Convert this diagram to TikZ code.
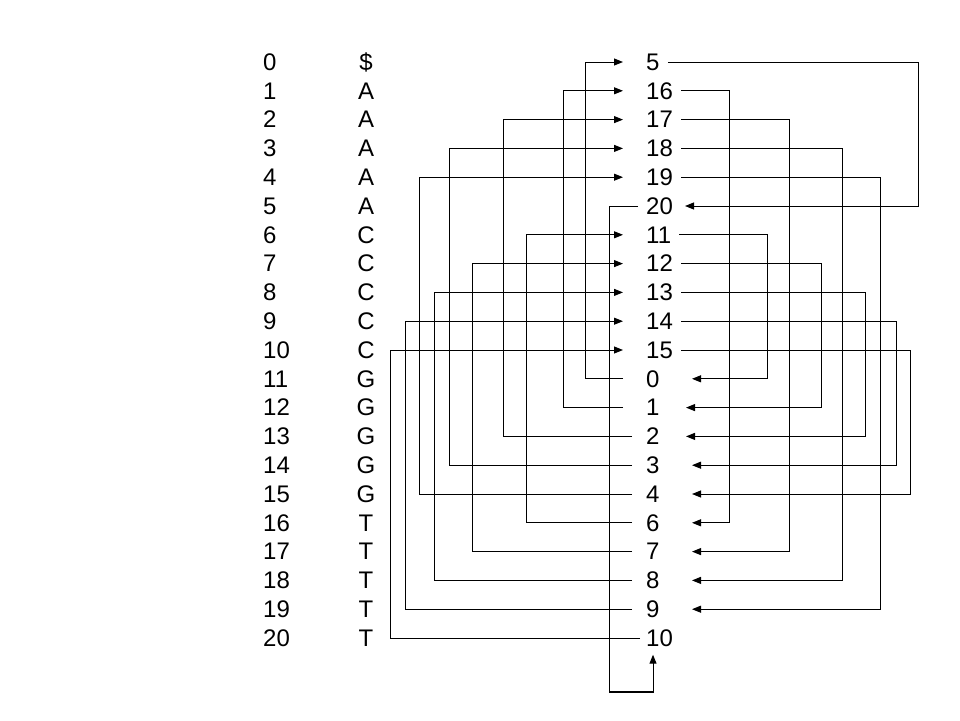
\documentclass[tikz,border=0pt]{standalone}
\usepackage{fontspec}
\setmainfont{Liberation Sans}
\usetikzlibrary{arrows.meta,calc}
\begin{document}
\begin{tikzpicture}[x=1pt,y=-1pt,
  lbl/.style={inner sep=0pt,font=\fontsize{24}{28}\selectfont},
  wire/.style={line width=1pt,line join=miter},
  arr/.style={wire,-{Triangle[length=9pt,width=7pt]}}]
\useasboundingbox (0,0) rectangle (960,720);
% left index column and letters
\foreach \i/\c in {0/\$,1/A,2/A,3/A,4/A,5/A,6/C,7/C,8/C,9/C,10/C,11/G,12/G,13/G,14/G,15/G,16/T,17/T,18/T,19/T,20/T} {
  \node[lbl,anchor=west] (n\i) at (263,62+28.8*\i) {\i};
  \node[lbl] (c\i) at (366,62+28.8*\i) {\c};
}
% middle column
\foreach \v [count=\r from 0] in {5,16,17,18,19,20,11,12,13,14,15,0,1,2,3,4,6,7,8,9,10} {
  \node[lbl,anchor=west] (m\r) at (646,62+28.8*\r) {\v};
}
% left connectors: from lower label up to upper label
\foreach \t/\b/\x/\d in {0/11/585/23,1/12/563/23,2/13/503/14,3/14/449/14,4/15/419/14,6/16/526/14,7/17/472/14,8/18/434/14,9/19/405/14,10/20/390/6} {
  \draw[arr] ([xshift=-\d pt]m\b.west) -- (m\b.west -| \x,0) -- (m\t.west -| \x,0) -- ([xshift=-23pt]m\t.west);
}
% right connectors: from upper label down to lower label
\foreach \t/\b/\x/\e in {0/5/918/685,1/16/729/692,2/17/789/692,3/18/842/692,4/19/880/692,6/11/767/692,7/12/821/686,8/13/865/686,9/14/896/692,10/15/910/692} {
  \draw[arr] ([xshift=8pt]m\t.east) -- (m\t.east -| \x,0) -- (m\b.east -| \x,0) -- (m\b.east -| \e,0);
}
% 20 -> 10 around the bottom
\coordinate (b10) at ($(m20.south)+(0,8)$);
\coordinate (bl) at (609,692);
\coordinate (br) at (653,692);
\draw[arr] ([xshift=-8pt]m5.west) -- (m5.west -| bl) -- (bl) -- (br) -- (b10 -| br);
\draw[line width=1.8pt] (bl) -- (br);
\end{tikzpicture}
\end{document}
